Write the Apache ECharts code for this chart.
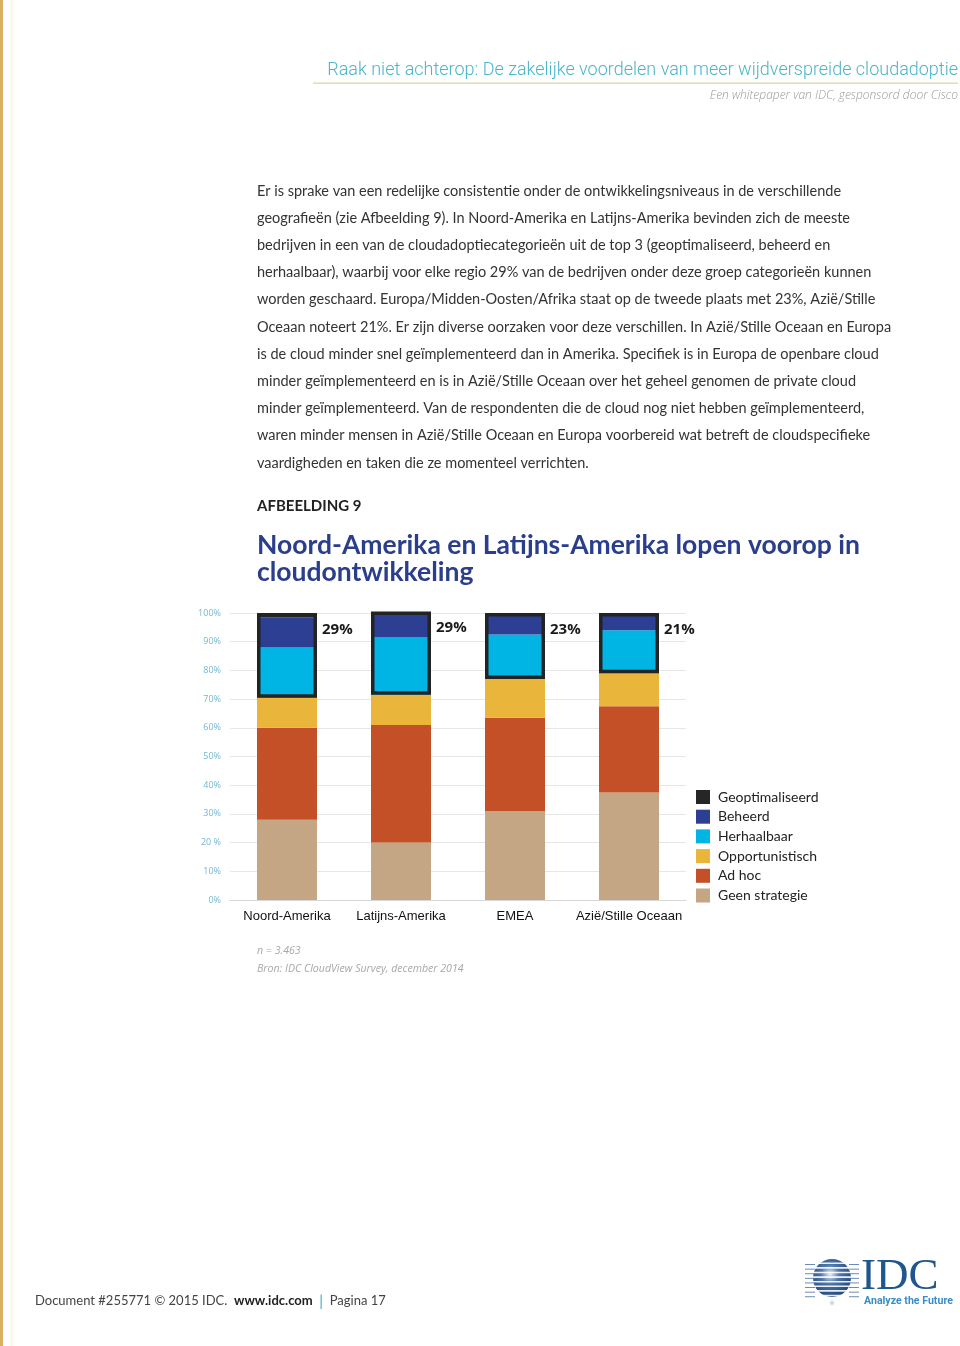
<!DOCTYPE html>
<html>
<head>
<meta charset="utf-8">
<script src="https://cdn.jsdelivr.net/npm/echarts@6/dist/echarts.min.js"></script>
<style>
html,body{margin:0;padding:0;background:#fff;}
#page{width:960px;height:1346px;}
</style>
</head>
<body>
<div id="page"></div>
<script>
// ---- data ----
var categories = ['Noord-Amerika', 'Latijns-Amerika', 'EMEA', 'Azië/Stille Oceaan'];
var geenStrategie   = [28, 20, 31, 37.5];
var adHoc           = [32, 41, 32.5, 30];
var opportunistisch = [10.5, 10.5, 13.5, 11.5];
var herhaalbaar     = [17.5, 20, 15.5, 15];
var beheerd         = [10.5, 8.5, 7.5, 6];
var geoptimaliseerd = [1.5, 0.5, 0, 0];
var top3Labels = ['29%', '29%', '23%', '21%'];
var yTickLabels = ['0%', '10%', '20 %', '30%', '40%', '50%', '60%', '70%', '80%', '90%', '100%'];
var legendNames = ['Geoptimaliseerd', 'Beheerd', 'Herhaalbaar', 'Opportunistisch', 'Ad hoc', 'Geen strategie'];

var bodyLines = [
  'Er is sprake van een redelijke consistentie onder de ontwikkelingsniveaus in de verschillende',
  'geografieën (zie Afbeelding 9). In Noord-Amerika en Latijns-Amerika bevinden zich de meeste',
  'bedrijven in een van de cloudadoptiecategorieën uit de top 3 (geoptimaliseerd, beheerd en',
  'herhaalbaar), waarbij voor elke regio 29% van de bedrijven onder deze groep categorieën kunnen',
  'worden geschaard. Europa/Midden-Oosten/Afrika staat op de tweede plaats met 23%, Azië/Stille',
  'Oceaan noteert 21%. Er zijn diverse oorzaken voor deze verschillen. In Azië/Stille Oceaan en Europa',
  'is de cloud minder snel geïmplementeerd dan in Amerika. Specifiek is in Europa de openbare cloud',
  'minder geïmplementeerd en is in Azië/Stille Oceaan over het geheel genomen de private cloud',
  'minder geïmplementeerd. Van de respondenten die de cloud nog niet hebben geïmplementeerd,',
  'waren minder mensen in Azië/Stille Oceaan en Europa voorbereid wat betreft de cloudspecifieke',
  'vaardigheden en taken die ze momenteel verrichten.'
];

// derived
var boxBase = categories.map(function (c, i) { return geenStrategie[i] + adHoc[i] + opportunistisch[i]; });
var boxTop = categories.map(function (c, i) { return herhaalbaar[i] + beheerd[i] + geoptimaliseerd[i]; });

var colors = {
  'Geoptimaliseerd': '#262626',
  'Beheerd': '#2c3f92',
  'Herhaalbaar': '#00b4e3',
  'Opportunistisch': '#e9b53a',
  'Ad hoc': '#c45027',
  'Geen strategie': '#c4a584'
};

var chart = echarts.init(document.getElementById('page'), null, {renderer: 'canvas'});

function txt(x, y, text, font, fill, align, extra) {
  var st = {text: text, font: font, fill: fill, align: align || 'left', verticalAlign: 'middle',
            textAlign: align || 'left', textVerticalAlign: 'middle'};
  if (extra) for (var k in extra) st[k] = extra[k];
  return {type: 'text', x: x, y: y, silent: true, style: st};
}

var graphics = [];
// left gold rule
graphics.push({type: 'rect', shape: {x: 0, y: 0, width: 3, height: 1346}, style: {fill: '#dcb062'}, silent: true});
graphics.push({type: 'rect', shape: {x: 10, y: 0, width: 3, height: 1346}, style: {fill: '#fbf8ee'}, silent: true});
// header
graphics.push(txt(958, 70, 'Raak niet achterop: De zakelijke voordelen van meer wijdverspreide cloudadoptie',
  '300 18px Roboto', '#4bb5c9', 'right'));
graphics.push({type: 'rect', shape: {x: 313, y: 82.5, width: 645, height: 1.2}, style: {fill: '#dcd3a6'}, silent: true});
graphics.push(txt(958, 96, 'Een whitepaper van IDC, gesponsord door Cisco', 'italic 300 12px "Open Sans"', '#9a9a9a', 'right'));
// body
bodyLines.forEach(function (l, i) {
  graphics.push(txt(257, 191 + i * 27.2, l, '14.5px Lato', '#333333', 'left'));
});
graphics.push(txt(257, 506, 'AFBEELDING 9', 'bold 15px Lato', '#222222', 'left'));
graphics.push(txt(257, 545, 'Noord-Amerika en Latijns-Amerika lopen voorop in', 'bold 26.5px Lato', '#2a3e8c', 'left'));
graphics.push(txt(257, 572, 'cloudontwikkeling', 'bold 26.5px Lato', '#2a3e8c', 'left'));
// footnotes
graphics.push(txt(257, 951, 'n = 3.463', 'italic 10.6px "Open Sans"', '#a8a8a8', 'left'));
graphics.push(txt(257, 969, 'Bron: IDC CloudView Survey, december 2014', 'italic 10.6px "Open Sans"', '#a8a8a8', 'left'));
// footer
graphics.push({
  type: 'text', x: 35, y: 1301, silent: true,
  style: {
    text: '{a|Document #255771 © 2015 IDC.}  {b|www.idc.com}  {c||}  {a|Pagina 17}',
    verticalAlign: 'middle', textVerticalAlign: 'middle',
    rich: {
      a: {font: '13px Lato', fill: '#444444', color: '#444444'},
      b: {font: 'bold 13px Lato', fill: '#222222', color: '#222222'},
      c: {font: '15px Lato', fill: '#3aa5d0', color: '#3aa5d0'}
    }
  }
});
// IDC logo
graphics.push({type: 'ellipse', shape: {cx: 832, cy: 1303, rx: 22, ry: 3.5}, silent: true,
  style: {fill: new echarts.graphic.RadialGradient(0.5, 0.5, 0.5, [{offset: 0, color: 'rgba(120,130,150,0.55)'}, {offset: 1, color: 'rgba(200,205,215,0)'}])}});
graphics.push({type: 'circle', shape: {cx: 832, cy: 1278, r: 19}, silent: true,
  style: {fill: new echarts.graphic.RadialGradient(0.45, 0.4, 0.7, [{offset: 0, color: '#e8eef6'}, {offset: 0.35, color: '#4f77a8'}, {offset: 1, color: '#163c72'}])}});
for (var s = 0; s < 8; s++) {
  var yy = 1262.5 + s * 4.6;
  graphics.push({type: 'rect', shape: {x: 805, y: yy, width: 54, height: 1.6}, silent: true, style: {fill: 'rgba(255,255,255,0.9)'}});
  graphics.push({type: 'rect', shape: {x: 805, y: yy + 1.6, width: 10, height: 0.9}, silent: true, style: {fill: '#5a7fae'}});
  graphics.push({type: 'rect', shape: {x: 849, y: yy + 1.6, width: 10, height: 0.9}, silent: true, style: {fill: '#5a7fae'}});
}
graphics.push(txt(861, 1277, 'IDC', '45px "Liberation Serif"', '#1f568d', 'left'));
graphics.push(txt(864, 1301, 'Analyze the Future', 'bold 10.6px Roboto', '#3b8cc6', 'left', {}));

var series = [];
var stackOrder = ['Geen strategie', 'Ad hoc', 'Opportunistisch', 'Herhaalbaar', 'Beheerd', 'Geoptimaliseerd'];
var stackData = {
  'Geen strategie': geenStrategie,
  'Ad hoc': adHoc,
  'Opportunistisch': opportunistisch,
  'Herhaalbaar': herhaalbaar,
  'Beheerd': beheerd,
  'Geoptimaliseerd': geoptimaliseerd
};
stackOrder.forEach(function (name) {
  series.push({
    name: name, type: 'bar', stack: 'segments', barWidth: 60, data: stackData[name],
    itemStyle: {color: colors[name]}, z: 2, silent: true
  });
});
series.push({
  name: 'boxBase', type: 'bar', stack: 'box', barWidth: 60, barGap: '-100%', data: boxBase,
  itemStyle: {color: 'rgba(0,0,0,0)'}, z: 3, silent: true
});
series.push({
  name: 'top3', type: 'bar', stack: 'box', barWidth: 60, barGap: '-100%', data: boxTop,
  itemStyle: {color: 'rgba(0,0,0,0)', borderColor: '#232323', borderWidth: 3.5}, z: 4, silent: true,
  label: {
    show: true, position: [65, 9],
    formatter: function (p) { return top3Labels[p.dataIndex]; },
    fontFamily: 'Open Sans', fontWeight: 'bold', fontSize: 15, color: '#1a1a1a'
  }
});

chart.setOption({
  animation: false,
  backgroundColor: '#ffffff',
  graphic: graphics,
  grid: {left: 230, right: 274, top: 613, bottom: 446},
  legend: {
    data: legendNames, orient: 'vertical', left: 696, top: 790, padding: 0,
    itemWidth: 14, itemHeight: 14, itemGap: 5.7, icon: 'rect',
    textStyle: {fontFamily: 'Lato', fontSize: 14, color: '#222222', padding: [0, 0, 0, 3]},
    selectedMode: false
  },
  xAxis: {
    type: 'category', data: categories,
    axisLine: {show: true, lineStyle: {color: '#d8d8d8', width: 1}},
    axisTick: {show: false},
    axisLabel: {fontFamily: 'Liberation Sans', fontSize: 13, color: '#111111', margin: 10, interval: 0}
  },
  yAxis: {
    type: 'value', min: 0, max: 100, interval: 10,
    axisLine: {show: false}, axisTick: {show: false},
    splitLine: {lineStyle: {color: '#e6e6e6', width: 1}},
    axisLabel: {
      fontFamily: 'Open Sans', fontSize: 9, color: '#72b7cf', margin: 9,
      formatter: function (v) { return yTickLabels[Math.round(v / 10)]; }
    }
  },
  series: series
});
</script>
</body>
</html>
